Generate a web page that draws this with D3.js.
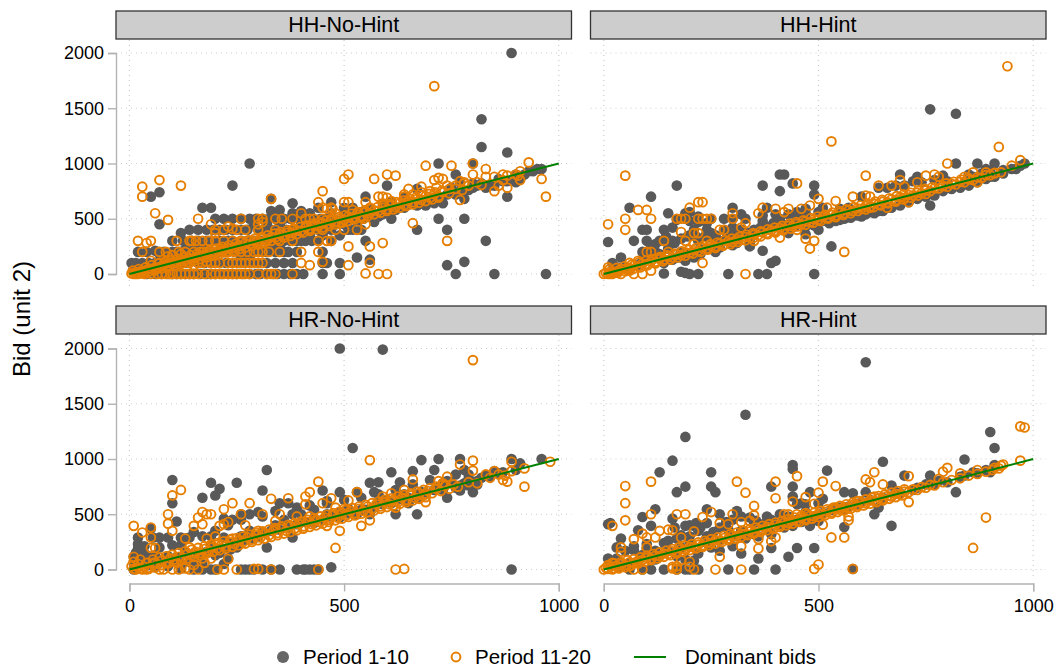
<!DOCTYPE html>
<html><head><meta charset="utf-8">
<script src="https://cdn.jsdelivr.net/npm/d3@7"></script>
<style>html,body{margin:0;padding:0;background:#fff}svg{display:block;font-family:"Liberation Sans",Arial,sans-serif}</style>
</head><body><svg id="c" width="1057" height="671"></svg>
<script>
const panelTitles = ["HH-No-Hint","HH-Hint","HR-No-Hint","HR-Hint"];
const xTicks = [0,500,1000];
const yTicks = [0,500,1000,1500,2000];
const dominantBids = [[0,0],[1000,1000]];
const legendLabels = ["Period 1-10","Period 11-20","Dominant bids"];
const yTitle = "Bid (unit 2)";

const hhNoHintEarly = [[890,2000],[820,1400],[820,1150],[880,1100],[720,1000],[280,1000],[240,800],[70,740],[50,700],[70,450],[190,600],[170,600],[120,370],[140,400],[160,400],[200,500],[220,500],[240,500],[330,680],[330,570],[380,640],[350,520],[440,600],[550,700],[600,800],[670,770],[610,500],[570,470],[670,400],[720,500],[780,500],[740,400],[830,300],[740,80],[780,110],[760,0],[850,0],[970,0],[880,700],[780,680],[710,640],[730,640],[760,900],[800,1000],[820,820],[950,950],[930,930],[900,900],[860,860],[550,300],[530,150],[560,130],[490,100],[490,0],[450,0],[450,100],[460,100],[450,200],[390,0],[360,0],[380,100],[360,100],[340,100],[320,100],[300,100],[280,150],[260,150],[320,0],[280,0],[250,0],[230,0],[200,0],[180,0],[150,0],[130,0],[110,0],[90,0],[200,300],[210,300],[220,280],[180,300],[160,300],[20,200],[40,200],[60,210],[70,180],[100,150],[120,200],[140,200],[150,220],[170,250],[30,100],[10,50],[40,50],[60,100],[90,90],[230,200],[250,250],[260,400],[290,300],[300,400],[320,400],[340,350],[360,300],[380,400],[400,450],[410,300],[420,350],[440,400],[470,300],[480,450],[490,350],[500,500],[510,400],[530,480],[520,600],[560,590],[590,610],[620,580],[650,650],[680,660],[690,620],[800,820],[840,800],[870,840],[900,830],[750,780],[770,830],[640,690],[580,520],[540,500],[460,480],[430,470],[400,500],[380,500],[310,200],[330,250],[350,250],[300,250]];
const hhNoHintEarlyBand = [[20,10],[50,35],[80,60],[110,90],[140,120],[170,150],[200,180],[230,210],[260,240],[290,270],[320,300],[350,330],[380,360],[410,390],[440,420],[470,450],[500,480],[530,510],[560,540],[590,570],[620,600],[650,630],[680,660],[710,690],[740,720],[770,750],[800,780],[830,800]];
const hhNoHintEarlyCloud = [[5,100],[15,100],[45,100],[75,100],[85,100],[105,100],[120,100],[135,100],[160,100],[175,100],[190,100],[210,100],[225,100],[240,100],[255,100],[270,100],[285,100],[100,0],[120,0],[140,0],[165,0],[190,0],[215,0],[240,0],[265,0],[295,0],[305,0],[335,0],[345,0],[375,0],[405,0],[40,0],[60,0],[75,0],[80,200],[100,200],[110,200],[130,220],[160,200],[175,200],[190,200],[205,200],[220,200],[245,200],[260,200],[275,200],[290,200],[320,200],[340,200],[360,200],[370,200],[390,200],[100,300],[125,300],[145,300],[190,300],[230,300],[240,300],[260,300],[275,300],[305,300],[320,300],[335,300],[350,300],[375,300],[390,300],[425,300],[440,300],[180,400],[195,400],[210,400],[225,400],[240,400],[275,400],[310,400],[330,400],[350,400],[365,400],[395,400],[410,400],[425,400],[455,400],[470,400],[520,400],[540,400],[260,500],[280,500],[295,500],[310,500],[325,500],[340,500],[360,500],[375,500],[410,500],[425,500],[445,500],[460,500],[475,500],[515,500],[530,500],[545,500],[400,300],[450,350],[500,450],[610,560],[640,600],[670,620],[700,660],[590,540],[560,520],[350,450],[320,450],[290,450],[470,550],[500,560],[540,560],[420,550],[380,550],[350,580],[400,570],[470,650],[500,600],[610,650],[640,640],[680,640],[660,640],[720,690],[760,720],[790,760],[810,800],[830,780],[850,800],[880,840],[910,860],[920,900],[940,930],[960,950]];
const hhNoHintLate = [[710,1700],[70,850],[30,790],[30,700],[120,800],[60,550],[90,490],[20,300],[40,280],[50,300],[70,200],[30,200],[110,300],[140,300],[170,300],[160,500],[190,450],[200,400],[200,370],[230,430],[240,410],[260,500],[310,500],[310,470],[300,450],[340,500],[330,680],[440,650],[450,750],[500,860],[510,900],[570,860],[600,900],[620,890],[690,980],[710,850],[750,980],[800,1000],[800,900],[830,950],[830,880],[870,900],[930,1010],[910,930],[910,850],[960,860],[970,700],[850,750],[880,780],[860,800],[770,670],[740,300],[660,460],[590,280],[560,250],[510,250],[560,100],[510,80],[550,5],[580,0],[600,0],[400,200],[400,100],[420,80],[440,200],[450,110],[380,0],[340,0],[330,0],[320,0],[280,0],[250,0],[230,0],[220,0],[210,0],[150,0],[140,0],[110,0],[85,0],[250,100],[260,100],[280,100],[290,100],[300,100],[310,100],[300,200],[310,200],[350,200],[470,300],[460,300],[440,300],[530,400],[550,450],[500,400],[460,590],[473,590],[410,500],[420,500],[430,500],[500,650],[510,650],[580,700],[590,700],[550,650],[770,840],[780,830],[720,870],[730,860],[680,790],[650,770],[640,720],[600,690],[170,100],[180,110],[150,80],[200,100],[230,100],[60,50],[50,120],[90,160],[100,170],[120,180]];
const hhNoHintLateBand = [[5,5],[10,0],[15,15],[20,10],[25,25],[30,20],[40,35],[45,50],[50,45],[60,60],[65,55],[75,70],[80,85],[90,80],[95,100],[105,95],[110,110],[120,115],[130,125],[140,145],[150,140],[160,160],[170,165],[180,175],[190,195],[200,190],[210,215],[220,210],[230,235],[240,235],[250,250],[260,255],[270,280],[280,270],[290,295],[300,290],[310,320],[320,310],[330,335],[340,330],[350,360],[360,350],[370,375],[380,370],[390,395],[400,390],[410,420],[420,410],[430,440],[440,430],[450,460],[460,450],[470,480],[480,470],[490,500],[500,490],[510,520],[520,510],[530,540],[540,525],[550,560],[560,550],[570,575],[580,570],[590,600],[600,585],[610,620],[620,605],[630,640],[640,625],[650,660],[660,650],[670,680],[680,670],[690,705],[700,690],[710,725],[720,705],[730,740],[745,730],[760,770],[775,760],[790,800],[820,805],[870,850],[905,890]];
const hhNoHintLateUpper = [[8,30],[22,45],[38,60],[52,80],[68,95],[82,110],[98,125],[112,140],[128,155],[142,170],[158,185],[172,200],[188,215],[202,230],[218,245],[232,260],[248,275],[262,290],[278,305],[292,320],[308,335],[322,350],[338,365],[352,380],[368,395],[382,410],[398,425],[412,440],[428,455],[442,470],[458,485],[472,500],[488,515],[502,530],[518,545],[532,560],[548,575],[562,590],[578,605],[592,620],[608,635],[622,650],[638,665],[652,680],[668,695],[682,710],[698,725],[712,740],[728,755],[745,770]];
const hhNoHintLateLower = [[15,0],[30,5],[45,20],[60,35],[75,50],[90,60],[105,75],[120,90],[135,105],[150,120],[165,135],[180,150],[195,165],[210,180],[225,195],[240,210],[255,225],[270,240],[285,255],[300,270],[315,285],[330,300],[345,315],[360,330],[375,345],[390,360],[405,375],[420,390],[435,405],[450,420],[465,435],[480,450],[495,465],[510,480],[525,495],[540,510],[555,525],[570,540],[585,555],[600,570],[615,585],[630,600],[645,615],[660,630],[675,645],[690,660],[705,675],[720,690]];
const hhNoHintLateRows = [[20,0],[35,0],[50,0],[65,0],[75,0],[95,0],[100,0],[120,0],[130,0],[160,0],[175,0],[190,0],[200,0],[240,0],[260,0],[270,0],[300,0],[70,100],[95,100],[110,100],[125,100],[140,100],[160,100],[190,100],[210,100],[270,100],[240,100],[85,200],[115,200],[130,200],[150,200],[165,200],[180,200],[200,200],[215,200],[230,200],[245,200],[260,200],[275,200],[290,200],[325,200],[145,300],[155,300],[185,300],[200,300],[220,300],[240,300],[260,300],[280,300],[300,300],[320,300],[350,300],[380,300],[220,400],[250,400],[270,400],[300,400],[340,400],[380,400],[420,400],[450,400],[480,400],[300,500],[355,500],[380,500],[450,500],[470,500],[520,500],[545,500],[400,550],[450,600],[470,600],[480,550],[520,580],[560,600],[590,640],[610,660],[640,700],[660,720],[680,740],[700,750],[715,780],[740,800],[760,800],[780,820],[810,830],[850,880],[880,890],[900,900]];

const hhHintEarly = [[760,1490],[820,1450],[820,1000],[870,1000],[910,1000],[890,950],[930,940],[980,1000],[760,620],[690,900],[730,880],[790,890],[850,900],[410,900],[420,900],[440,820],[490,800],[490,720],[370,800],[410,750],[170,800],[110,700],[60,600],[150,550],[300,600],[380,600],[330,500],[300,500],[190,550],[190,500],[200,480],[220,470],[240,460],[90,400],[100,400],[140,400],[240,400],[10,290],[70,300],[100,300],[130,300],[40,150],[20,100],[90,200],[370,210],[390,100],[400,120],[530,250],[500,400],[430,370],[340,250],[260,200],[140,5],[180,20],[190,10],[200,0],[220,0],[290,0],[360,0],[380,0],[490,0],[170,150],[190,120],[110,250],[150,280],[120,200],[200,350],[220,300],[250,330],[210,400],[260,350],[280,400],[300,420],[320,400],[350,400],[370,480],[410,500],[430,450],[450,500],[470,550],[520,500],[540,480],[560,500],[600,520],[620,560],[640,570],[660,600],[700,670],[720,690],[760,740],[800,780],[840,820],[900,880],[950,950],[580,570],[550,540],[500,560],[460,470],[340,320],[300,260],[270,240],[230,220],[80,80],[50,60],[140,100],[160,130],[180,150]];
const hhHintEarlyCloud = [[30,60],[60,40],[90,120],[105,170],[130,180],[150,230],[165,280],[180,200],[195,180],[210,150],[225,180],[240,230],[120,270],[145,340],[160,300],[180,320],[195,340],[215,340],[235,340],[250,370],[270,300],[285,320],[300,350],[315,350],[330,380],[345,350],[365,420],[380,430],[395,460],[410,470],[425,430],[445,430],[470,430],[490,440],[510,480],[525,460],[550,490],[575,510],[590,530],[610,540],[630,550],[650,570],[670,600],[690,620],[710,650],[730,680],[750,700],[770,710],[790,750],[810,770],[830,780],[850,800],[870,830],[890,860],[910,880],[930,910],[960,950],[970,980],[600,700],[640,780],[660,780],[680,800],[700,800],[720,840],[740,830],[770,850],[800,840],[860,880],[880,910],[900,930],[550,590],[570,600],[510,600],[470,510],[430,540],[400,540],[370,530],[320,540],[280,500],[250,500],[220,520],[200,560],[170,490],[160,420],[470,590],[450,560],[470,360],[340,280],[310,280]];
const hhHintLate = [[940,1880],[530,1200],[920,1150],[800,1000],[970,1030],[950,980],[50,890],[610,890],[450,820],[10,450],[50,500],[50,400],[80,580],[100,580],[110,500],[200,600],[220,650],[230,650],[170,500],[180,500],[190,500],[220,500],[230,500],[240,500],[250,500],[300,550],[300,500],[370,600],[360,550],[400,590],[500,680],[540,660],[480,620],[180,380],[140,300],[190,300],[210,370],[220,370],[270,400],[280,400],[320,420],[410,330],[450,400],[470,320],[490,300],[480,230],[560,200],[330,0],[230,100],[110,30],[90,0],[70,0],[100,200],[110,200],[750,890],[770,900],[640,800],[610,710],[580,700],[670,800],[690,850],[710,650],[910,910],[870,830],[660,600],[620,600],[60,30],[40,0],[20,0],[30,20],[10,60],[60,100],[80,120],[130,150],[150,200],[170,180],[210,270],[240,300],[350,300],[330,460],[420,560],[430,590],[460,590],[520,600],[620,700],[700,790],[730,830],[780,880],[840,880],[860,920],[890,920]];
const hhHintLateBand = [[0,0],[5,10],[10,0],[15,20],[20,15],[25,20],[35,30],[40,45],[50,45],[60,55],[70,75],[80,70],[90,95],[100,90],[110,115],[120,110],[130,135],[140,130],[150,155],[160,150],[170,175],[180,170],[190,195],[200,190],[210,215],[220,210],[230,235],[240,230],[250,255],[260,250],[270,275],[280,270],[290,295],[300,290],[310,315],[320,310],[330,335],[340,330],[350,355],[360,350],[370,375],[380,370],[390,395],[400,390],[410,415],[420,410],[430,435],[440,430],[450,455],[460,450],[470,475],[480,470],[490,495],[500,490],[510,515],[520,510],[530,535],[540,530],[550,555],[560,550],[570,575],[580,570],[590,595],[600,590],[610,615],[620,610],[630,635],[640,630],[650,655],[660,650],[670,675],[680,670],[690,695],[700,690],[710,715],[720,710],[730,735],[740,730],[750,755],[760,750],[770,775],[780,775],[790,795],[800,790],[810,815],[820,810],[830,835],[840,830],[850,855],[860,850],[870,875],[880,870],[890,895],[900,895],[910,915],[925,920]];
const hhHintLateUpper = [[12,40],[30,55],[48,70],[65,85],[82,105],[98,120],[115,135],[132,155],[148,170],[165,185],[182,205],[198,220],[215,235],[232,255],[248,270],[265,285],[282,305],[298,320],[315,335],[332,355],[348,370],[365,385],[382,405],[398,420],[415,435],[432,455],[448,470],[465,485],[482,505],[498,520],[515,535],[532,555],[548,570],[565,585],[582,605],[598,620],[615,635],[632,655],[648,670],[665,685],[682,705],[698,720],[715,735],[732,755],[748,770],[765,785],[782,805],[798,820],[815,835],[832,855],[848,870]];
const hhHintLateLower = [[15,0],[32,10],[50,25],[68,45],[85,60],[102,80],[120,95],[138,115],[155,130],[172,150],[190,165],[208,185],[225,200],[242,220],[260,235],[278,255],[295,270],[312,290],[330,305],[348,325],[365,340],[382,360],[400,375],[418,395],[435,410],[452,430],[470,445],[488,465],[505,480],[522,500],[540,515],[558,535],[575,550],[592,570],[610,585],[628,605],[645,620],[662,640],[680,655],[698,675],[715,690],[732,710],[750,725]];

const hrNoHintEarly = [[490,2000],[590,1990],[520,1100],[320,900],[100,810],[100,600],[190,785],[210,730],[200,670],[170,650],[250,785],[310,715],[680,990],[720,1000],[770,1000],[890,1000],[910,960],[960,1000],[610,880],[660,890],[710,900],[560,785],[580,790],[630,790],[490,700],[450,715],[530,700],[570,700],[620,500],[670,500],[740,650],[770,715],[800,700],[760,860],[380,290],[320,200],[120,220],[20,290],[70,290],[50,370],[110,435],[120,290],[140,290],[240,450],[220,460],[280,500],[260,500],[310,480],[350,600],[370,600],[380,500],[390,0],[410,0],[420,0],[430,0],[470,20],[890,0],[20,190],[10,115],[30,175],[190,0],[200,0],[270,0],[280,0],[310,0],[10,0],[230,100],[170,50],[150,30],[130,280],[190,220],[220,290],[240,240],[260,300],[280,350],[300,300],[340,400],[360,450],[400,500],[430,460],[460,500],[490,520],[510,550],[540,540],[580,610],[600,630],[640,680],[680,700],[720,740],[750,780],[790,820],[820,830],[860,870],[850,890],[780,900],[30,100],[40,130],[10,60],[50,80],[70,60],[90,120],[110,110],[130,160],[210,150],[250,200],[560,500],[430,540],[460,600]];
const hrNoHintEarlyCloud = [[20,230],[15,150],[35,210],[25,70],[45,40],[60,130],[80,90],[100,70],[120,50],[140,70],[160,120],[180,160],[200,130],[215,190],[235,180],[255,250],[270,270],[290,280],[310,340],[330,350],[350,360],[370,380],[390,410],[410,430],[430,420],[450,450],[470,480],[490,470],[510,510],[530,500],[550,540],[570,560],[590,590],[610,600],[630,640],[650,650],[670,680],[690,690],[710,720],[730,720],[760,740],[770,760],[790,760],[810,800],[830,850],[790,860],[740,800],[700,810],[660,770],[620,720],[580,680],[540,650],[500,630],[460,620],[420,580],[390,560],[340,530],[300,520],[260,450],[230,400],[200,350],[150,340],[170,300],[90,290],[55,290],[100,220],[70,200],[190,300],[150,0],[170,0],[220,50],[260,0],[290,0],[330,0],[350,0],[405,0],[440,0],[60,20],[90,30],[120,10],[780,780],[810,770],[840,840],[870,880],[900,900],[730,780],[670,650],[650,600],[590,600]];
const hrNoHintLate = [[800,1895],[560,990],[440,795],[120,720],[100,670],[240,600],[280,600],[330,640],[370,645],[410,660],[420,700],[410,590],[90,500],[90,415],[100,350],[10,395],[30,335],[50,380],[50,290],[60,195],[50,195],[170,520],[160,470],[180,500],[190,500],[170,410],[150,395],[210,395],[220,410],[220,545],[230,430],[260,500],[310,500],[270,400],[480,195],[490,350],[460,395],[470,645],[530,700],[510,625],[540,395],[560,445],[620,560],[660,815],[690,610],[740,840],[770,950],[800,985],[800,895],[810,780],[850,890],[880,795],[890,975],[890,890],[920,915],[920,750],[980,975],[620,0],[640,5],[440,0],[330,0],[300,5],[290,5],[250,0],[220,0],[160,0],[140,0],[70,0],[40,0],[230,95],[170,100],[10,115],[20,20],[60,60],[110,60],[150,150],[190,100],[130,280],[140,200],[180,280],[200,300],[240,280],[300,350],[340,440],[350,500],[390,480],[420,480],[450,600],[480,560],[500,550],[590,660],[610,690],[640,720],[720,800],[730,780],[830,860],[870,810]];
const hrNoHintLateBand = [[5,30],[10,5],[20,50],[25,10],[35,25],[45,15],[55,60],[65,50],[75,80],[85,65],[95,100],[105,90],[115,115],[125,105],[135,140],[145,125],[155,160],[165,150],[175,185],[185,170],[195,205],[205,190],[215,225],[225,210],[235,245],[245,230],[255,265],[265,250],[275,290],[285,270],[295,310],[305,290],[315,330],[325,310],[335,350],[345,330],[355,370],[365,350],[375,395],[385,370],[395,410],[405,390],[415,430],[425,410],[435,450],[445,430],[455,470],[465,450],[475,490],[485,470],[495,510],[505,490],[515,530],[525,510],[535,550],[545,530],[555,570],[565,550],[575,590],[585,570],[595,610],[605,590],[615,630],[625,610],[635,650],[645,630],[655,670],[665,650],[675,690],[685,670],[695,710],[705,690],[715,730],[725,710],[735,755],[745,730],[755,770],[765,750],[790,790],[840,830],[860,860],[875,850]];
const hrNoHintLateUpper = [[10,70],[25,90],[40,60],[55,90],[70,110],[85,120],[100,135],[115,150],[130,165],[145,180],[160,195],[175,210],[190,225],[205,240],[220,255],[235,270],[250,285],[265,300],[280,315],[295,330],[310,345],[325,360],[340,375],[355,390],[370,405],[385,420],[400,435],[415,450],[430,465],[445,480],[460,495],[475,510],[490,525],[505,540],[520,555],[535,570],[550,585],[565,600],[580,615],[595,630],[610,645],[625,660],[640,675],[655,690],[670,705],[685,720],[700,735],[715,750],[730,765]];
const hrNoHintLateLower = [[15,0],[30,0],[45,5],[60,20],[75,40],[90,55],[105,70],[120,85],[135,100],[150,115],[165,130],[180,145],[195,160],[210,175],[225,190],[240,205],[255,220],[270,235],[285,250],[300,265],[315,280],[330,295],[345,310],[360,325],[375,340],[390,355],[405,370],[420,385],[435,400],[450,415],[465,430],[480,445],[495,460],[510,475],[525,490],[540,505],[555,520],[570,535],[585,550],[600,565],[615,580],[630,595],[645,610],[660,625],[675,640],[690,655],[80,0],[100,0],[115,0],[130,10],[150,40],[175,60],[205,0]];

const hrHintEarly = [[610,1875],[330,1400],[190,1200],[160,985],[130,880],[170,700],[190,750],[250,880],[250,750],[260,700],[440,945],[440,910],[520,895],[650,975],[840,995],[900,1245],[910,1100],[910,945],[760,850],[700,850],[670,760],[820,700],[630,500],[670,395],[580,690],[610,700],[560,700],[560,385],[480,700],[440,750],[390,750],[440,660],[500,600],[120,545],[90,475],[10,410],[110,395],[160,460],[240,545],[270,500],[310,530],[210,395],[190,395],[80,355],[40,280],[70,175],[10,100],[110,0],[140,0],[190,0],[220,0],[290,0],[350,0],[400,0],[580,5],[360,100],[430,115],[450,195],[490,195],[320,145],[390,195],[220,145],[480,395],[440,395],[30,200],[50,170],[90,130],[120,170],[140,240],[170,280],[200,300],[220,350],[240,300],[290,360],[320,350],[350,320],[380,480],[410,500],[450,590],[470,590],[500,440],[540,550],[640,560],[720,720],[780,800],[830,840],[860,880],[890,900],[750,770],[680,700],[600,610],[100,230],[70,210],[20,40],[40,30],[60,60]];
const hrHintEarlyCloud = [[15,420],[150,260],[165,380],[180,310],[200,400],[215,420],[225,380],[240,420],[255,340],[270,380],[285,430],[300,450],[320,480],[340,470],[355,440],[370,410],[390,450],[410,440],[430,480],[450,450],[470,520],[490,480],[510,510],[530,540],[550,560],[570,570],[590,590],[620,630],[650,650],[690,690],[730,740],[770,770],[800,790],[840,850],[870,870],[900,880],[120,90],[80,60],[60,20],[30,100],[100,190],[180,200],[200,240],[240,240],[270,260],[300,300],[330,280],[360,300],[390,320],[420,380],[460,430],[500,480],[560,540],[250,200],[270,170],[300,210],[130,130],[150,170],[170,120],[90,0],[60,0],[170,0],[200,0],[210,80],[190,90],[350,420],[410,420],[470,450],[460,600],[510,640]];
const hrHintLate = [[50,755],[50,600],[50,445],[20,395],[110,795],[310,795],[330,695],[400,795],[400,645],[450,845],[510,795],[500,695],[540,755],[440,615],[470,655],[490,595],[350,575],[110,500],[170,500],[190,500],[230,475],[250,520],[300,500],[350,490],[150,360],[160,355],[130,350],[210,345],[180,290],[120,290],[100,290],[70,275],[90,325],[100,200],[40,200],[40,160],[360,275],[360,190],[400,290],[390,255],[320,210],[270,115],[530,290],[560,290],[510,405],[570,445],[710,610],[710,845],[650,770],[630,880],[610,815],[620,790],[890,470],[860,195],[800,920],[790,885],[970,1295],[980,1285],[970,985],[930,950],[500,45],[490,5],[580,5],[320,0],[260,0],[210,0],[170,0],[160,25],[200,25],[200,70],[180,85],[160,10],[170,30],[70,0],[90,0],[60,30],[30,30],[20,60],[290,410],[270,420],[320,430],[340,440],[420,500],[430,500],[450,500],[470,510],[540,560],[570,480],[590,620],[630,660],[780,820],[830,870],[870,900],[910,920],[925,940]];
const hrHintLateBand = [[0,0],[5,15],[10,5],[15,30],[20,10],[30,35],[35,20],[40,50],[50,40],[60,65],[70,60],[80,80],[90,85],[100,105],[110,100],[120,125],[130,120],[140,145],[150,140],[160,165],[170,160],[180,185],[190,180],[200,205],[210,200],[220,225],[230,220],[240,245],[250,240],[260,265],[270,260],[280,285],[290,280],[300,305],[310,300],[320,325],[330,320],[340,345],[350,340],[360,365],[370,360],[380,385],[390,380],[400,405],[410,400],[420,425],[430,420],[440,445],[450,440],[460,465],[470,460],[480,485],[490,480],[500,505],[510,500],[520,525],[530,520],[540,545],[550,540],[560,565],[570,560],[580,585],[590,580],[600,605],[610,600],[620,625],[630,620],[640,645],[650,640],[660,665],[670,660],[680,685],[690,680],[700,705],[710,700],[720,725],[730,720],[740,745],[750,740],[760,765],[770,760],[790,790],[810,810],[830,825],[850,850],[870,865],[890,885],[905,900],[920,915]];
const hrHintLateUpper = [[10,40],[25,55],[40,65],[55,85],[70,95],[85,110],[100,125],[115,140],[130,155],[145,170],[160,185],[175,200],[190,215],[205,230],[220,245],[235,260],[250,275],[265,290],[280,305],[295,320],[310,335],[325,350],[340,365],[355,380],[370,395],[385,410],[400,425],[415,440],[430,455],[445,470],[460,485],[475,500],[490,515],[505,530],[520,545],[535,560],[550,575],[565,590],[580,605],[595,620],[610,635],[625,650],[640,665],[655,680],[670,695],[685,710],[700,725]];
const hrHintLateLower = [[20,0],[35,10],[50,20],[65,40],[80,55],[95,70],[110,85],[125,100],[140,115],[155,130],[170,145],[185,160],[200,175],[215,190],[230,205],[245,220],[260,235],[275,250],[290,265],[305,280],[320,295],[335,310],[350,325],[365,340],[380,355],[395,370],[410,385],[425,400],[440,415],[455,430],[470,445],[485,460],[500,475],[515,490],[530,505],[545,520],[560,535],[575,550],[590,565],[605,580],[620,595],[635,610],[650,625],[665,640],[680,655],[695,670]];

const panelEarly = [[...hhNoHintEarly,...hhNoHintEarlyBand,...hhNoHintEarlyCloud],[...hhHintEarly,...hhHintEarlyCloud],[...hrNoHintEarly,...hrNoHintEarlyCloud],[...hrHintEarly,...hrHintEarlyCloud]];
const panelLate = [[...hhNoHintLate,...hhNoHintLateBand,...hhNoHintLateUpper,...hhNoHintLateLower,...hhNoHintLateRows],[...hhHintLate,...hhHintLateBand,...hhHintLateUpper,...hhHintLateLower],[...hrNoHintLate,...hrNoHintLateBand,...hrNoHintLateUpper,...hrNoHintLateLower],[...hrHintLate,...hrHintLateBand,...hrHintLateUpper,...hrHintLateLower]];

const COL = {gray:"#595959",orange:"#E67E00",green:"#008000",axis:"#b3b3b3",grid:"#cccccc"};
const svg = d3.select("#c");
const sx = d3.scaleLinear().domain([0,1000]).range([0,429.4]);
const sy = d3.scaleLinear().domain([0,2000]).range([221,0]);
const cols = [{left:116,x0:129.4},{left:590.5,x0:603.8}];
const rows = [{strip:11,y0:53},{strip:306,y0:348.5}];

panelTitles.forEach((title,i)=>{
  const c = cols[i%2], r = rows[Math.floor(i/2)];
  const g = svg.append("g").attr("transform",`translate(${c.x0},${r.y0})`);
  const stripX = c.left-c.x0, stripY = r.strip-r.y0, w = 455.5;
  g.append("rect").attr("x",stripX).attr("y",stripY).attr("width",w).attr("height",28)
    .attr("fill","#cdcdcd").attr("stroke","#333").attr("stroke-width",1.3);
  g.append("text").attr("x",stripX+w/2).attr("y",stripY+20.5).attr("text-anchor","middle")
    .attr("font-size",21.5).attr("fill","#000").text(title);
  const grid = g.append("g").attr("fill","none").attr("stroke",COL.grid).attr("stroke-width",1.2).attr("stroke-dasharray","1 4");
  const botY = i>=2?229.5:234;
  yTicks.forEach(t=>grid.append("line").attr("x1",stripX).attr("x2",stripX+w).attr("y1",sy(t)).attr("y2",sy(t)));
  xTicks.forEach(t=>grid.append("line").attr("x1",sx(t)).attr("x2",sx(t)).attr("y1",stripY+29).attr("y2",botY));
  if(i%2===0){
    const a = g.append("g").attr("transform",`translate(${stripX},0)`).call(d3.axisLeft(sy).tickValues(yTicks).tickFormat(d3.format("d")).tickSize(8).tickPadding(4));
    a.selectAll("path,line").attr("stroke",COL.axis).attr("stroke-width",1.4);
    a.selectAll("text").attr("font-size",18).attr("fill","#000").attr("font-family","inherit");
  }
  if(i>=2){
    const a = g.append("g").attr("transform",`translate(0,${235})`).call(d3.axisBottom(sx).tickValues(xTicks).tickFormat(d3.format("d")).tickSize(8).tickPadding(8));
    a.selectAll("path,line").attr("stroke",COL.axis).attr("stroke-width",1.4);
    a.selectAll("text").attr("font-size",18).attr("fill","#000").attr("font-family","inherit");
  }
  g.append("g").selectAll("circle").data(panelEarly[i]).join("circle")
    .attr("cx",d=>sx(d[0])).attr("cy",d=>sy(d[1])).attr("r",5.3).attr("fill",COL.gray);
  g.append("g").selectAll("circle").data(panelLate[i]).join("circle")
    .attr("cx",d=>sx(d[0])).attr("cy",d=>sy(d[1])).attr("r",4.4).attr("fill","none").attr("stroke",COL.orange).attr("stroke-width",1.9);
  g.append("path").attr("d",d3.line().x(d=>sx(d[0])).y(d=>sy(d[1]))(dominantBids))
    .attr("stroke",COL.green).attr("stroke-width",2).attr("fill","none");
});

svg.append("text").attr("transform","translate(30,319) rotate(-90)").attr("text-anchor","middle")
  .attr("font-size",24).attr("fill","#000").text(yTitle);

const lg = svg.append("g").attr("font-size",20.5).attr("fill","#000");
lg.append("circle").attr("cx",283).attr("cy",657).attr("r",6).attr("fill","#666");
lg.append("text").attr("x",303).attr("y",664).text(legendLabels[0]);
lg.append("circle").attr("cx",456).attr("cy",657).attr("r",4.4).attr("fill","none").attr("stroke",COL.orange).attr("stroke-width",2);
lg.append("text").attr("x",475).attr("y",664).text(legendLabels[1]);
lg.append("line").attr("x1",634).attr("x2",666).attr("y1",657).attr("y2",657).attr("stroke",COL.green).attr("stroke-width",2);
lg.append("text").attr("x",685).attr("y",664).text(legendLabels[2]);
</script></body></html>
